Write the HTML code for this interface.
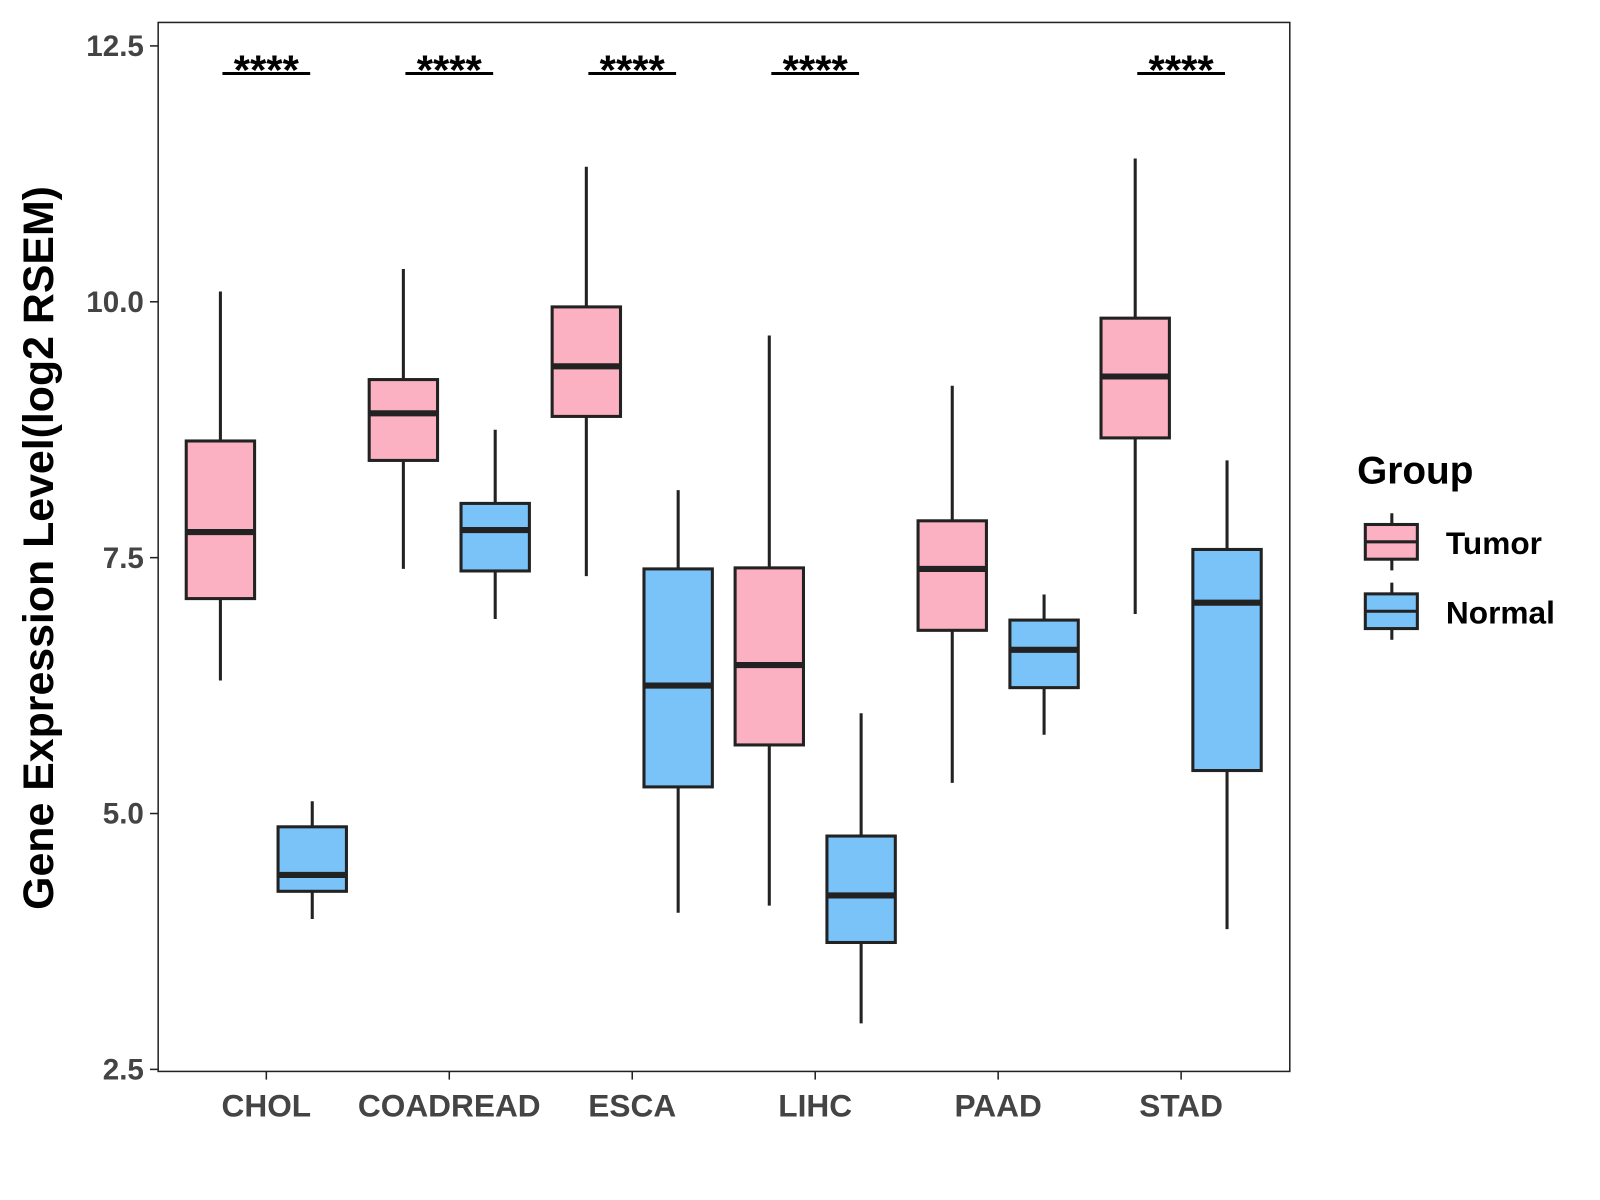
<!DOCTYPE html>
<html><head><meta charset="utf-8"><style>
html,body{margin:0;padding:0;background:#fff;}
svg{display:block;font-family:"Liberation Sans",Arial,sans-serif;}
</style></head><body>
<svg id="chart" width="1600" height="1200" viewBox="0 0 1568 1176" xmlns="http://www.w3.org/2000/svg">
<rect x="0" y="0" width="1568" height="1176" fill="#fff"/>
<rect x="155" y="22" width="1109" height="1028" fill="none" stroke="#222" stroke-width="1.5"/>
<g id="marks"></g>
<text transform="translate(52,537) rotate(-90)" text-anchor="middle" font-size="42" font-weight="bold" fill="#000">Gene Expression Level(log2 RSEM)</text>
<g>
<text x="1330" y="474" font-size="38" font-weight="bold" fill="#000">Group</text>
<g>
<line x1="1364" y1="503" x2="1364" y2="559" stroke="#222" stroke-width="3"/>
<rect x="1338" y="514" width="51" height="34" fill="#FBB1C2" stroke="#222" stroke-width="3"/>
<line x1="1338" y1="531" x2="1389" y2="531" stroke="#222" stroke-width="3"/>
<text x="1417" y="543" font-size="31" font-weight="bold" fill="#000">Tumor</text>
</g>
<g>
<line x1="1364" y1="571" x2="1364" y2="627" stroke="#222" stroke-width="3"/>
<rect x="1338" y="582" width="51" height="34" fill="#7AC3F8" stroke="#222" stroke-width="3"/>
<line x1="1338" y1="599" x2="1389" y2="599" stroke="#222" stroke-width="3"/>
<text x="1417" y="611" font-size="31" font-weight="bold" fill="#000">Normal</text>
</g>
</g>
</svg>
<script>
const categories = ["CHOL","COADREAD","ESCA","LIHC","PAAD","STAD"];
// [low, q1, median, q3, high]
const tumorStats = [
 [6.30,7.10,7.75,8.64,10.10],
 [7.39,8.45,8.91,9.24,10.32],
 [7.32,8.88,9.37,9.95,11.32],
 [4.10,5.67,6.45,7.40,9.67],
 [5.30,6.79,7.39,7.86,9.18],
 [6.95,8.67,9.27,9.84,11.40]
];
const normalStats = [
 [3.97,4.24,4.40,4.87,5.12],
 [6.90,7.37,7.77,8.03,8.75],
 [4.03,5.26,6.25,7.39,8.16],
 [2.95,3.74,4.20,4.78,5.98],
 [5.77,6.23,6.60,6.89,7.14],
 [3.87,5.42,7.06,7.58,8.45]
];
const significance = ["****","****","****","****","","****"];
const yTicks = [2.5,5.0,7.5,10.0,12.5];
const yTickLabels = ["2.5","5.0","7.5","10.0","12.5"];

const NS="http://www.w3.org/2000/svg";
const g=document.getElementById('marks');
function y(v){return 45+(12.5-v)*100.3;}
function x(i){return 261+i*179.3;}
function el(tag,attrs,parent){const e=document.createElementNS(NS,tag);for(const k in attrs)e.setAttribute(k,attrs[k]);(parent||g).appendChild(e);return e;}

yTicks.forEach((t,i)=>{
  const tk=el('line',{x1:147,x2:155,y1:y(t),y2:y(t),stroke:'#222','stroke-width':1.5});
  
  
  const tl=el('text',{x:141,y:y(t)+10,'text-anchor':'end','font-size':29,'font-weight':'bold',fill:'#444'});
  tl.textContent=yTickLabels[i];
  
  
});
categories.forEach((c,i)=>{
  const tk=el('line',{x1:x(i),x2:x(i),y1:1050,y2:1058,stroke:'#222','stroke-width':1.5});
  
  
  const tl=el('text',{x:x(i),y:1094,'text-anchor':'middle','font-size':31,'font-weight':'bold',fill:'#444'});
  tl.textContent=c;
  
  
});
function box(s,cx,fill,name){
  const grp=el('g',{});
  
  
  el('line',{x1:cx,x2:cx,y1:y(s[4]),y2:y(s[0]),stroke:'#222','stroke-width':3},grp);
  el('rect',{x:cx-33.5,y:y(s[3]),width:67,height:y(s[1])-y(s[3]),fill:fill,stroke:'#222','stroke-width':3},grp);
  el('line',{x1:cx-33.5,x2:cx+33.5,y1:y(s[2]),y2:y(s[2]),stroke:'#222','stroke-width':6},grp);
}
categories.forEach((c,i)=>{
  box(tumorStats[i],x(i)-45,'#FBB1C2','box-tumor-'+c.toLowerCase());
  box(normalStats[i],x(i)+45,'#7AC3F8','box-normal-'+c.toLowerCase());
  if(significance[i]){
    const ln=el('line',{x1:x(i)-43,x2:x(i)+43,y1:72,y2:72,stroke:'#000','stroke-width':3});
    
    
    const st=el('text',{x:x(i),y:83,'text-anchor':'middle','font-size':41,'font-weight':'bold',fill:'#000'});
    st.textContent=significance[i];
    
    
  }
});
</script>
</body></html>
